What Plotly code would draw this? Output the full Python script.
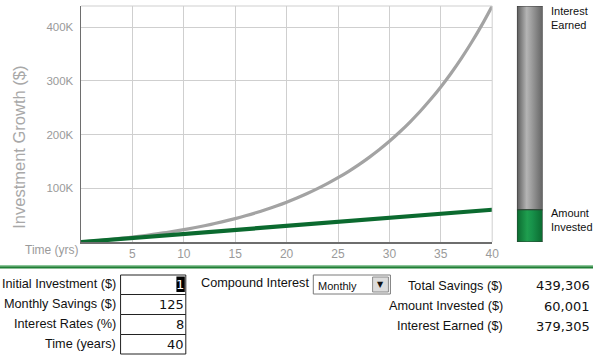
import plotly.graph_objects as go

# ---------------- data ----------------
years = list(range(0, 41))
total_savings = [1, 1568, 3264, 5102, 7092, 9247, 11582, 14110, 16847, 19812,
                 23023, 26500, 30267, 34346, 38763, 43546, 48728, 54339, 60415, 66997,
                 74124, 81843, 90203, 99256, 109061, 119679, 131180, 143634, 157122, 171730,
                 187550, 204684, 223239, 243334, 265098, 288667, 314194, 341838, 371777, 404200,
                 439306]
invested_years = [0, 5, 10, 15, 20, 25, 30, 35, 40]
amount_invested = [1, 7501, 15001, 22501, 30001, 37501, 45001, 52501, 60001]

y_tickvals = [100000, 200000, 300000, 400000]
y_ticktext = ["100K", "200K", "300K", "400K"]
x_tickvals = [5, 10, 15, 20, 25, 30, 35, 40]

bar_invested = 60001
bar_interest = 379305
bar_total = 439306

input_labels = ["Initial Investment ($)", "Monthly Savings ($)", "Interest Rates (%)", "Time (years)"]
input_values = ["1", "125", "8", "40"]
result_labels = ["Total Savings ($)", "Amount Invested ($)", "Interest Earned ($)"]
result_values = ["439,306", "60,001", "379,305"]
compound_option = "Monthly"

# ---------------- helpers ----------------
W, H = 600, 357


def px(x):
    return x / W


def py(y):
    return 1 - y / H


SANS = "Liberation Sans, Arial, Helvetica, sans-serif"
MONO = "DejaVu Sans, sans-serif"

fig = go.Figure()

fig.add_trace(go.Scatter(x=years, y=total_savings, mode="lines",
                         line=dict(color="#a3a3a3", width=3.2, shape="spline"),
                         hoverinfo="skip", xaxis="x", yaxis="y"))
fig.add_trace(go.Scatter(x=invested_years, y=amount_invested, mode="lines",
                         line=dict(color="#0b6a2f", width=4.2),
                         hoverinfo="skip", xaxis="x", yaxis="y"))

# stacked bar (cylinder) built from data
bw = 0.5
fig.add_trace(go.Scatter(
    x=[-bw, bw, bw, -bw, -bw],
    y=[bar_invested, bar_invested, bar_invested + bar_interest, bar_invested + bar_interest, bar_invested],
    fill="toself", mode="lines", line=dict(color="#3a3a3a", width=1),
    fillgradient=dict(type="horizontal",
                      colorscale=[[0, "#5a5a5a"], [0.38, "#b4b4b4"], [0.55, "#a0a0a0"], [1, "#646464"]]),
    hoverinfo="skip", xaxis="x2", yaxis="y2"))
fig.add_trace(go.Scatter(
    x=[-bw, bw, bw, -bw, -bw],
    y=[0, 0, bar_invested, bar_invested, 0],
    fill="toself", mode="lines", line=dict(color="#2f3f33", width=1),
    fillgradient=dict(type="horizontal",
                      colorscale=[[0, "#0b6a30"], [0.4, "#1f9e4f"], [0.6, "#17914a"], [1, "#0b6a30"]]),
    hoverinfo="skip", xaxis="x2", yaxis="y2"))

x_dom = [px(82), px(498)]
y_dom = [py(242), py(6)]

fig.update_layout(
    width=W, height=H, autosize=False, margin=dict(l=0, r=0, t=0, b=0),
    paper_bgcolor="white", plot_bgcolor="white", showlegend=False,
    xaxis=dict(domain=x_dom, range=[0, 40], tickvals=x_tickvals,
               showgrid=True, gridcolor="#cfcfcf", gridwidth=1,
               showline=True, linecolor="#6e6e6e", linewidth=1.5,
               zeroline=False, ticks="", tickfont=dict(family=SANS, size=12, color="#9a9a9a"),
               fixedrange=True),
    yaxis=dict(domain=y_dom, range=[0, bar_total], tickvals=y_tickvals, ticktext=y_ticktext,
               showgrid=True, gridcolor="#cfcfcf", gridwidth=1,
               showline=True, linecolor="#6e6e6e", linewidth=1.5,
               zeroline=False, ticks="", ticklabelstandoff=4,
               tickfont=dict(family=SANS, size=11.5, color="#9a9a9a"), fixedrange=True),
    xaxis2=dict(domain=[px(523), px(549)], range=[-bw, bw], anchor="y2",
                visible=False, fixedrange=True),
    yaxis2=dict(domain=y_dom, range=[0, bar_total], anchor="x2",
                visible=False, fixedrange=True),
)

shapes = []
# top & right border of the plot area
shapes.append(dict(type="line", xref="paper", yref="paper", x0=x_dom[0], x1=x_dom[1],
                   y0=y_dom[1], y1=y_dom[1], line=dict(color="#cfcfcf", width=1)))
shapes.append(dict(type="line", xref="paper", yref="paper", x0=x_dom[1], x1=x_dom[1],
                   y0=y_dom[0], y1=y_dom[1], line=dict(color="#cfcfcf", width=1)))
# green separator
shapes.append(dict(type="line", xref="paper", yref="paper", x0=0, x1=1,
                   y0=py(265.5), y1=py(265.5), line=dict(color="#8cc79a", width=1)))
shapes.append(dict(type="rect", xref="paper", yref="paper", x0=0, x1=1,
                   y0=py(268.6), y1=py(266.2), fillcolor="#1f7f35", line=dict(width=0)))
# input boxes
rows = [275, 294.5, 314.5, 334.5, 354]
for i in range(4):
    shapes.append(dict(type="rect", xref="paper", yref="paper", x0=px(122), x1=px(188),
                       y0=py(rows[i + 1]), y1=py(rows[i]), line=dict(color="#222", width=1),
                       fillcolor="white"))
# dropdown
shapes.append(dict(type="rect", xref="paper", yref="paper", x0=px(317), x1=px(395),
                   y0=py(294), y1=py(275), line=dict(color="#7a7a7a", width=1), fillcolor="white"))
shapes.append(dict(type="rect", xref="paper", yref="paper", x0=px(377), x1=px(393),
                   y0=py(292), y1=py(277), line=dict(color="#8a8a8a", width=1), fillcolor="#dcdcdc"))
# highlight behind "1"
shapes.append(dict(type="rect", xref="paper", yref="paper", x0=px(178.5), x1=px(187),
                   y0=py(292), y1=py(276.5), line=dict(width=0), fillcolor="#000"))

fig.update_layout(shapes=shapes)

ann = []


def add(text, x, y, size, color="#111", family=SANS, xanchor="left", **kw):
    ann.append(dict(text=text, x=px(x), y=py(y), xref="paper", yref="paper", showarrow=False,
                    font=dict(family=family, size=size, color=color), xanchor=xanchor,
                    yanchor="middle", borderpad=0, borderwidth=0, **kw))


# axis titles
add("Investment Growth ($)", 19, 147, 16.5, color="#a8a8a8", xanchor="center", textangle=-90)
add("Time (yrs)", 80, 250, 12, color="#9a9a9a", xanchor="right")
# bar labels
add("Interest<br>Earned", 557, 18, 11, align="left")
add("Amount<br>Invested", 557, 220, 11, align="left")
# input labels and values
label_y = [283.5, 303.5, 323.5, 343.5]
for lab, val, yy in zip(input_labels, input_values, label_y):
    add(lab, 117, yy, 12.7, xanchor="right")
    add(val, 186.5, yy + 0.5, 13, family=MONO, xanchor="right",
        color="#fff" if val == input_values[0] else "#111")
add("Compound Interest", 203, 283, 12.7)
add(compound_option, 321.5, 286, 11)
add("▼", 385, 284.5, 8, family=MONO, xanchor="center")
res_y = [285.5, 306, 326]
for lab, val, yy in zip(result_labels, result_values, res_y):
    add(lab, 509, yy, 12.7, xanchor="right")
    add(val, 596.5, yy, 13, family=MONO, xanchor="right")

fig.update_layout(annotations=ann)

fig.write_html("out.html",
               config={"responsive": False, "displayModeBar": False, "staticPlot": True},
               post_script="document.body.style.margin='0';document.body.style.padding='0';"
                           "document.documentElement.style.overflow='hidden';"
                           "document.body.style.overflow='hidden';")
